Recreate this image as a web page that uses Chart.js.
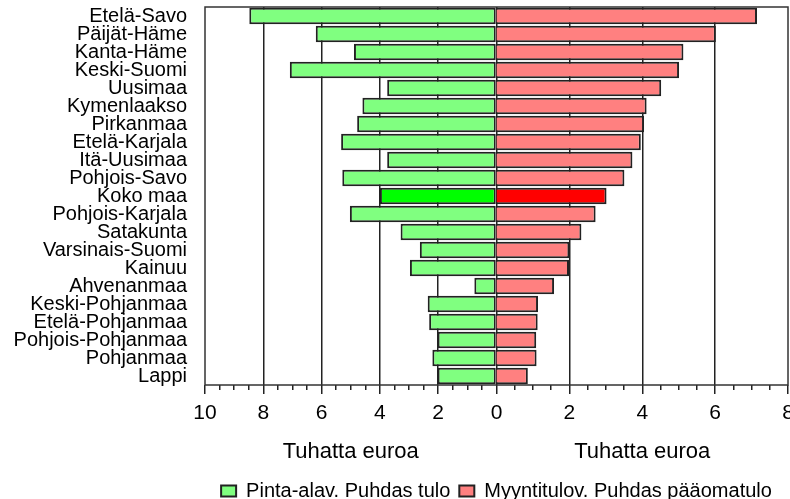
<!DOCTYPE html>
<html>
<head>
<meta charset="utf-8">
<script src="https://cdn.jsdelivr.net/npm/chart.js@4.4.1/dist/chart.umd.min.js"></script>
<style>
  html, body { margin: 0; padding: 0; background: #fff; }
</style>
</head>
<body>
<canvas id="chart" width="790" height="499"></canvas>
<script>
const regions = ['Etelä-Savo', 'Päijät-Häme', 'Kanta-Häme', 'Keski-Suomi', 'Uusimaa', 'Kymenlaakso',
  'Pirkanmaa', 'Etelä-Karjala', 'Itä-Uusimaa', 'Pohjois-Savo', 'Koko maa', 'Pohjois-Karjala',
  'Satakunta', 'Varsinais-Suomi', 'Kainuu', 'Ahvenanmaa', 'Keski-Pohjanmaa', 'Etelä-Pohjanmaa',
  'Pohjois-Pohjanmaa', 'Pohjanmaa', 'Lappi'];
// left half, tuhatta euroa
const pintaAla = [8.48, 6.2, 4.89, 7.09, 3.75, 4.6, 4.78, 5.33, 3.75, 5.29, 4.0, 5.03,
  3.29, 2.63, 2.97, 0.76, 2.36, 2.31, 2.02, 2.2, 2.02];
// right half, tuhatta euroa
const myyntitulo = [7.15, 6.02, 5.13, 5.01, 4.52, 4.12, 4.05, 3.96, 3.73, 3.51, 3.02, 2.72,
  2.33, 2.0, 1.99, 1.58, 1.14, 1.13, 1.09, 1.1, 0.86];
const leftTicks = [10, 8, 6, 4, 2, 0];
const rightTicks = [2, 4, 6, 8];
const leftMax = 10, rightMax = 8, minorStep = 0.5;
const axisTitle = 'Tuhatta euroa';
const seriesNames = ['Pinta-alav. Puhdas tulo', 'Myyntitulov. Puhdas pääomatulo'];

const koko = regions.indexOf('Koko maa');
const ink = '#222';
Chart.defaults.font.family = '"Liberation Sans", Arial, sans-serif';
Chart.defaults.color = '#000';

// the visible axis is the left scale; right half ticks are the right scale's values mapped onto it
const k = leftMax / rightMax;
const toRight = v => Math.round(v / k * 100) / 100;
const tickValues = [];
for (let v = -leftMax; v <= 0.0001; v += minorStep) tickValues.push(Math.round(v * 100) / 100);
for (let r = minorStep; r <= rightMax + 0.0001; r += minorStep) tickValues.push(r * k);
const isMajor = v => v <= 0 ? leftTicks.includes(Math.abs(Math.round(v * 100) / 100)) : rightTicks.includes(toRight(v));

// frame round the plot
const frame = {
  id: 'frame',
  beforeDatasetsDraw(c) {
    const {ctx, chartArea: a} = c;
    ctx.save();
    ctx.strokeStyle = '#333';
    ctx.lineWidth = 1.5;
    ctx.strokeRect(a.left, a.top, a.right - a.left, a.bottom - a.top);
    ctx.restore();
  }
};

// one axis title under each half
const halfTitles = {
  id: 'halfTitles',
  afterDraw(c) {
    const {ctx, chartArea: a, scales} = c;
    ctx.save();
    ctx.font = '22px "Liberation Sans", Arial, sans-serif';
    ctx.fillStyle = '#000';
    ctx.textAlign = 'center';
    ctx.textBaseline = 'middle';
    ctx.fillText(axisTitle, scales.x.getPixelForValue(-leftMax / 2), a.bottom + 67);
    ctx.fillText(axisTitle, scales.xR.getPixelForValue(rightMax / 2), a.bottom + 67);
    ctx.restore();
  }
};

new Chart(document.getElementById('chart'), {
  type: 'bar',
  data: {
    labels: regions,
    datasets: [{
      label: seriesNames[0],
      data: pintaAla.map(v => -v),
      xAxisID: 'x',
      backgroundColor: c => c.dataIndex === koko ? '#00ff00' : '#80ff80',
      borderColor: ink, borderWidth: 2, borderSkipped: false
    }, {
      label: seriesNames[1],
      data: myyntitulo,
      xAxisID: 'xR',
      backgroundColor: c => c.dataIndex === koko ? '#ff0000' : '#ff8080',
      borderColor: ink, borderWidth: 2, borderSkipped: 'start'
    }]
  },
  options: {
    indexAxis: 'y',
    responsive: false,
    animation: false,
    layout: {padding: {top: 7, right: 2, left: 0, bottom: -12}},
    datasets: {bar: {grouped: false, categoryPercentage: 1, barPercentage: 0.92}},
    scales: {
      y: {
        afterFit: s => { s.width = 205; s.paddingTop = 0; s.paddingBottom = 0; },
        border: {display: false},
        grid: {display: false, drawTicks: false},
        ticks: {font: {size: 20}, padding: 18, autoSkip: false}
      },
      x: {
        type: 'linear', position: 'bottom', min: -leftMax, max: leftMax,
        afterBuildTicks: s => { s.ticks = tickValues.map(value => ({value})); },
        afterFit: s => { s.height = 87; s.paddingLeft = 0; s.paddingRight = 0; },
        border: {display: false},
        grid: {
          color: ctx => {
            const v = ctx.tick.value;
            return isMajor(v) && Math.abs(v) < leftMax - 0.01 ? ink : 'transparent';
          },
          lineWidth: 1.5,
          tickLength: 9,
          tickWidth: 1.5,
          tickColor: ink,
          tickBorderDash: ctx => isMajor(ctx.tick.value) ? [] : [5, 30]
        },
        ticks: {
          autoSkip: false, maxRotation: 0, minRotation: 0, padding: 7,
          font: {size: 21},
          callback: v => !isMajor(v) ? '' : String(v <= 0 ? Math.abs(Math.round(v)) : toRight(v))
        }
      },
      xR: {type: 'linear', display: false, min: -rightMax, max: rightMax}
    },
    plugins: {
      legend: {
        position: 'bottom', fullSize: false,
        labels: {font: {size: 20}, boxWidth: 15, boxHeight: 11, padding: 9, color: '#000'}
      },
      tooltip: {enabled: false}
    }
  },
  plugins: [frame, halfTitles]
});
</script>
</body>
</html>
